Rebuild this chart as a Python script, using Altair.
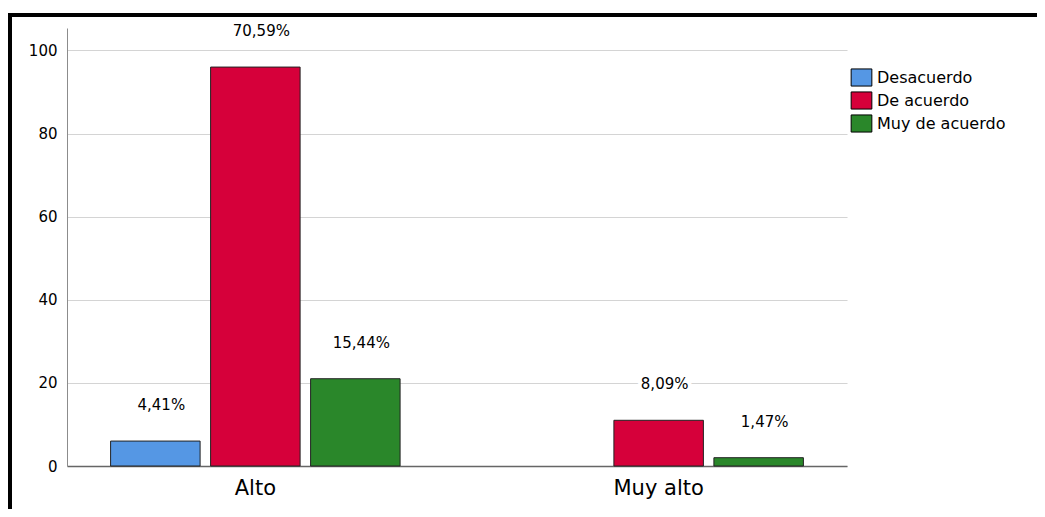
import altair as alt
import pandas as pd

groups = ["Alto", "Alto", "Alto", "Muy alto", "Muy alto"]
categories = ["Desacuerdo", "De acuerdo", "Muy de acuerdo", "De acuerdo", "Muy de acuerdo"]
counts = [6, 96, 21, 11, 2]
pct_labels = ["4,41%", "70,59%", "15,44%", "8,09%", "1,47%"]

group_order = ["Alto", "Muy alto"]
cat_order = ["Desacuerdo", "De acuerdo", "Muy de acuerdo"]
cat_colors = ["#5597E4", "#D6003A", "#2A872A"]
y_ticks = [0, 20, 40, 60, 80, 100]

df = pd.DataFrame({"grupo": groups, "cat": categories, "n": counts, "lab": pct_labels})

FONT = "DejaVu Sans"

x_enc = alt.X(
    "grupo:N",
    sort=group_order,
    scale=alt.Scale(paddingInner=0.066, paddingOuter=0),
    axis=alt.Axis(
        title=None, labelAngle=0, ticks=False, grid=False,
        labelFontSize=21, labelFont=FONT, labelColor="#000000",
        labelPadding=11, domainColor="#666666", domainWidth=1.5,
    ),
)
xo_enc = alt.XOffset(
    "cat:N",
    sort=cat_order,
    scale=alt.Scale(domain=cat_order, paddingInner=0.105, paddingOuter=0.436),
)
y_enc = alt.Y(
    "n:Q",
    scale=alt.Scale(domain=[0, 105.4], nice=False, zero=True),
    axis=alt.Axis(
        title=None, values=y_ticks, ticks=False, labelPadding=10,
        labelFontSize=15, labelFont=FONT, labelColor="#000000",
        gridColor="#d4d4d4", gridWidth=1.2, domainColor="#8c8c8c",
    ),
)

base = alt.Chart(df)

bars = base.mark_bar(stroke="#222222", strokeWidth=1).encode(
    x=x_enc,
    xOffset=xo_enc,
    y=y_enc,
    color=alt.Color(
        "cat:N",
        scale=alt.Scale(domain=cat_order, range=cat_colors),
        legend=alt.Legend(
            title=None, orient="none", legendX=785, legendY=40,
            symbolType="M-1.15,-0.95L1.15,-0.95L1.15,0.95L-1.15,0.95Z",
            symbolSize=324, symbolStrokeColor="#000000", symbolStrokeWidth=1,
            symbolOpacity=1,
            labelFont=FONT, labelFontSize=16, labelColor="#000000",
            labelOffset=6, rowPadding=0, padding=0,
        ),
    ),
)

halo = base.mark_text(
    font=FONT, fontSize=15, dy=-36, dx=6, baseline="middle",
    stroke="white", strokeWidth=8, fill="white",
).encode(x=x_enc, xOffset=xo_enc, y=y_enc, text="lab:N")

labels = base.mark_text(
    font=FONT, fontSize=15, dy=-36, dx=6, baseline="middle", color="#000000",
).encode(x=x_enc, xOffset=xo_enc, y=y_enc, text="lab:N")

frame_data = alt.Data(values=[{"k": 1}])
top_border = alt.Chart(frame_data).mark_rule(color="#000000", strokeWidth=4).encode(
    x=alt.value(-59), x2=alt.value(970), y=alt.value(-13)
)
left_border = alt.Chart(frame_data).mark_rule(color="#000000", strokeWidth=4).encode(
    x=alt.value(-57), y=alt.value(-15), y2=alt.value(490)
)

chart = (
    alt.layer(bars, halo, labels, top_border, left_border)
    .properties(
        width=780, height=438,
        autosize=alt.AutoSizeParams(type="none"),
        padding={"left": 59, "top": 20, "right": 190, "bottom": 43},
        background="white",
    )
    .configure_view(stroke=None)
)

chart.save("out.html", embed_options={"renderer": "svg", "actions": False})
